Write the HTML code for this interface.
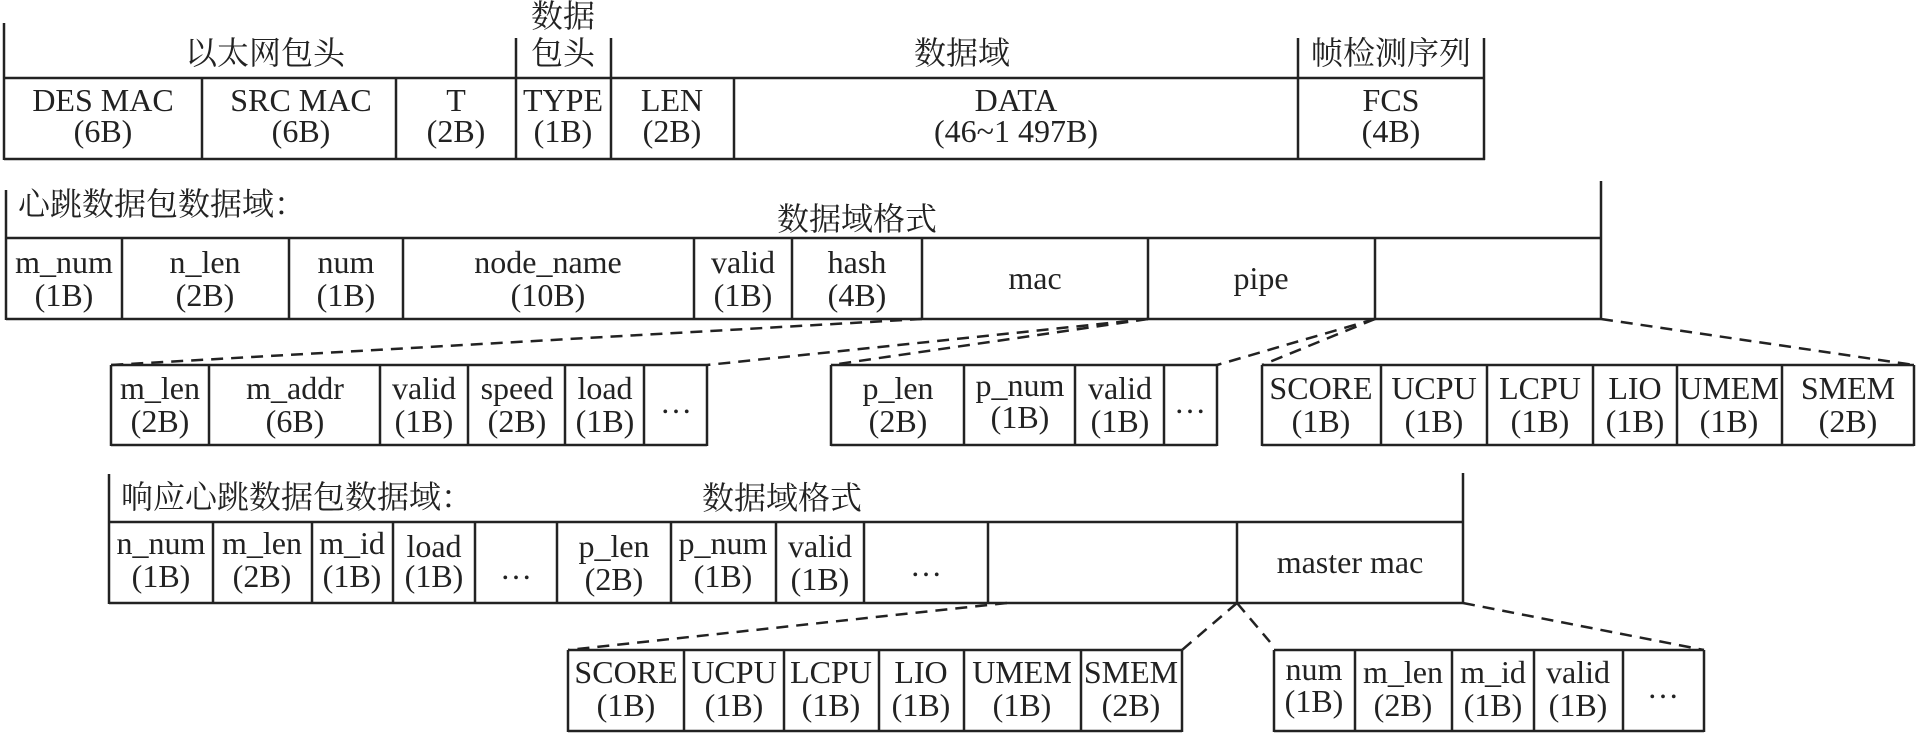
<!DOCTYPE html>
<html><head><meta charset="utf-8"><style>
html,body{margin:0;padding:0;background:#fff;}
svg{display:block}
text{font-family:"Liberation Serif","Noto Serif CJK SC",serif;font-size:32px;fill:#222;text-anchor:middle}
.c{font-family:"Liberation Serif","Noto Serif CJK SC","Noto Sans CJK SC",serif;font-size:32px}
.l{text-anchor:start}
line{stroke:#222;stroke-width:2.5}
.d{stroke-dasharray:12 8;stroke-width:2.5}
</style></head><body>
<svg width="1917" height="734" viewBox="0 0 1917 734" xmlns="http://www.w3.org/2000/svg">
<!-- Table 1 -->
<line x1="4" y1="23" x2="4" y2="160"/>
<line x1="4" y1="78" x2="1484" y2="78"/>
<line x1="4" y1="159" x2="1485" y2="159"/>
<line x1="202" y1="78" x2="202" y2="159"/>
<line x1="396" y1="78" x2="396" y2="159"/>
<line x1="516" y1="38" x2="516" y2="159"/>
<line x1="611" y1="38" x2="611" y2="159"/>
<line x1="734" y1="78" x2="734" y2="159"/>
<line x1="1298" y1="38" x2="1298" y2="159"/>
<line x1="1484" y1="38" x2="1484" y2="160"/>
<text class="c" x="265" y="64">以太网包头</text>
<text class="c" x="563" y="27">数据</text>
<text class="c" x="563" y="64">包头</text>
<text class="c" x="962" y="64">数据域</text>
<text class="c" x="1391" y="64">帧检测序列</text>
<text x="103" y="111">DES MAC</text><text x="103" y="142">(6B)</text>
<text x="301" y="111">SRC MAC</text><text x="301" y="142">(6B)</text>
<text x="456" y="111">T</text><text x="456" y="142">(2B)</text>
<text x="563" y="111">TYPE</text><text x="563" y="142">(1B)</text>
<text x="672" y="111">LEN</text><text x="672" y="142">(2B)</text>
<text x="1016" y="111">DATA</text><text x="1016" y="142">(46~1 497B)</text>
<text x="1391" y="111">FCS</text><text x="1391" y="142">(4B)</text>

<!-- Table 2 -->
<line x1="6" y1="190" x2="6" y2="320"/>
<line x1="6" y1="238" x2="1601" y2="238"/>
<line x1="6" y1="319" x2="1601" y2="319"/>
<line x1="1601" y1="181" x2="1601" y2="320"/>
<line x1="122" y1="238" x2="122" y2="319"/>
<line x1="289" y1="238" x2="289" y2="319"/>
<line x1="403" y1="238" x2="403" y2="319"/>
<line x1="694" y1="238" x2="694" y2="319"/>
<line x1="792" y1="238" x2="792" y2="319"/>
<line x1="922" y1="238" x2="922" y2="319"/>
<line x1="1148" y1="238" x2="1148" y2="319"/>
<line x1="1375" y1="238" x2="1375" y2="319"/>
<text class="c l" x="18" y="215">心跳数据包数据域：</text>
<text class="c" x="857" y="230">数据域格式</text>
<text x="64" y="273">m_num</text><text x="64" y="306">(1B)</text>
<text x="205" y="273">n_len</text><text x="205" y="306">(2B)</text>
<text x="346" y="273">num</text><text x="346" y="306">(1B)</text>
<text x="548" y="273">node_name</text><text x="548" y="306">(10B)</text>
<text x="743" y="273">valid</text><text x="743" y="306">(1B)</text>
<text x="857" y="273">hash</text><text x="857" y="306">(4B)</text>
<text x="1035" y="289">mac</text>
<text x="1261" y="289">pipe</text>

<!-- dashed connectors 2 -->
<line class="d" x1="922" y1="319" x2="111" y2="365"/>
<line class="d" x1="1148" y1="319" x2="707" y2="365"/>
<line class="d" x1="1148" y1="319" x2="831" y2="365"/>
<line class="d" x1="1375" y1="319" x2="1217" y2="365"/>
<line class="d" x1="1375" y1="319" x2="1262" y2="365"/>
<line class="d" x1="1601" y1="319" x2="1914" y2="365"/>

<!-- Sub A -->
<line x1="111" y1="365" x2="707" y2="365"/>
<line x1="111" y1="445" x2="707" y2="445"/>
<line x1="111" y1="365" x2="111" y2="446"/>
<line x1="209" y1="365" x2="209" y2="445"/>
<line x1="380" y1="365" x2="380" y2="445"/>
<line x1="468" y1="365" x2="468" y2="445"/>
<line x1="565" y1="365" x2="565" y2="445"/>
<line x1="644" y1="365" x2="644" y2="445"/>
<line x1="707" y1="365" x2="707" y2="446"/>
<text x="160" y="399">m_len</text><text x="160" y="432">(2B)</text>
<text x="295" y="399">m_addr</text><text x="295" y="432">(6B)</text>
<text x="424" y="399">valid</text><text x="424" y="432">(1B)</text>
<text x="517" y="399">speed</text><text x="517" y="432">(2B)</text>
<text x="605" y="399">load</text><text x="605" y="432">(1B)</text>
<text x="676" y="413">…</text>

<!-- Sub B -->
<line x1="831" y1="365" x2="1217" y2="365"/>
<line x1="831" y1="445" x2="1217" y2="445"/>
<line x1="831" y1="365" x2="831" y2="446"/>
<line x1="964" y1="365" x2="964" y2="445"/>
<line x1="1075" y1="365" x2="1075" y2="445"/>
<line x1="1164" y1="365" x2="1164" y2="445"/>
<line x1="1217" y1="365" x2="1217" y2="446"/>
<text x="898" y="399">p_len</text><text x="898" y="432">(2B)</text>
<text x="1020" y="396">p_num</text><text x="1020" y="428">(1B)</text>
<text x="1120" y="399">valid</text><text x="1120" y="432">(1B)</text>
<text x="1190" y="413">…</text>

<!-- Sub C -->
<line x1="1262" y1="365" x2="1914" y2="365"/>
<line x1="1262" y1="445" x2="1914" y2="445"/>
<line x1="1262" y1="365" x2="1262" y2="446"/>
<line x1="1381" y1="365" x2="1381" y2="445"/>
<line x1="1487" y1="365" x2="1487" y2="445"/>
<line x1="1593" y1="365" x2="1593" y2="445"/>
<line x1="1677" y1="365" x2="1677" y2="445"/>
<line x1="1782" y1="365" x2="1782" y2="445"/>
<line x1="1914" y1="365" x2="1914" y2="446"/>
<text x="1321" y="399">SCORE</text><text x="1321" y="432">(1B)</text>
<text x="1434" y="399">UCPU</text><text x="1434" y="432">(1B)</text>
<text x="1540" y="399">LCPU</text><text x="1540" y="432">(1B)</text>
<text x="1635" y="399">LIO</text><text x="1635" y="432">(1B)</text>
<text x="1729" y="399">UMEM</text><text x="1729" y="432">(1B)</text>
<text x="1848" y="399">SMEM</text><text x="1848" y="432">(2B)</text>

<!-- Table 3 -->
<line x1="109" y1="474" x2="109" y2="604"/>
<line x1="109" y1="522" x2="1463" y2="522"/>
<line x1="109" y1="603" x2="1463" y2="603"/>
<line x1="1463" y1="473" x2="1463" y2="604"/>
<line x1="213" y1="522" x2="213" y2="603"/>
<line x1="312" y1="522" x2="312" y2="603"/>
<line x1="393" y1="522" x2="393" y2="603"/>
<line x1="475" y1="522" x2="475" y2="603"/>
<line x1="557" y1="522" x2="557" y2="603"/>
<line x1="671" y1="522" x2="671" y2="603"/>
<line x1="776" y1="522" x2="776" y2="603"/>
<line x1="864" y1="522" x2="864" y2="603"/>
<line x1="988" y1="522" x2="988" y2="603"/>
<line x1="1237" y1="522" x2="1237" y2="603"/>
<text class="c l" x="121" y="508">响应心跳数据包数据域：</text>
<text class="c" x="782" y="509">数据域格式</text>
<text x="161" y="554">n_num</text><text x="161" y="587">(1B)</text>
<text x="262" y="554">m_len</text><text x="262" y="587">(2B)</text>
<text x="352" y="554">m_id</text><text x="352" y="587">(1B)</text>
<text x="434" y="557">load</text><text x="434" y="587">(1B)</text>
<text x="516" y="579">…</text>
<text x="614" y="557">p_len</text><text x="614" y="590">(2B)</text>
<text x="723" y="554">p_num</text><text x="723" y="587">(1B)</text>
<text x="820" y="557">valid</text><text x="820" y="590">(1B)</text>
<text x="926" y="576">…</text>
<text x="1350" y="573">master mac</text>

<!-- dashed connectors 3 -->
<line class="d" x1="1007" y1="603" x2="568" y2="650"/>
<line class="d" x1="1237" y1="603" x2="1182" y2="650"/>
<line class="d" x1="1237" y1="603" x2="1270" y2="642"/>
<line class="d" x1="1463" y1="603" x2="1704" y2="650"/>

<!-- Sub D -->
<line x1="568" y1="650" x2="1182" y2="650"/>
<line x1="568" y1="731" x2="1182" y2="731"/>
<line x1="568" y1="650" x2="568" y2="732"/>
<line x1="684" y1="650" x2="684" y2="731"/>
<line x1="784" y1="650" x2="784" y2="731"/>
<line x1="879" y1="650" x2="879" y2="731"/>
<line x1="964" y1="650" x2="964" y2="731"/>
<line x1="1081" y1="650" x2="1081" y2="731"/>
<line x1="1182" y1="650" x2="1182" y2="732"/>
<text x="626" y="683">SCORE</text><text x="626" y="716">(1B)</text>
<text x="734" y="683">UCPU</text><text x="734" y="716">(1B)</text>
<text x="831" y="683">LCPU</text><text x="831" y="716">(1B)</text>
<text x="921" y="683">LIO</text><text x="921" y="716">(1B)</text>
<text x="1022" y="683">UMEM</text><text x="1022" y="716">(1B)</text>
<text x="1131" y="683">SMEM</text><text x="1131" y="716">(2B)</text>

<!-- Sub E -->
<line x1="1274" y1="650" x2="1704" y2="650"/>
<line x1="1274" y1="731" x2="1704" y2="731"/>
<line x1="1274" y1="650" x2="1274" y2="732"/>
<line x1="1355" y1="650" x2="1355" y2="731"/>
<line x1="1452" y1="650" x2="1452" y2="731"/>
<line x1="1534" y1="650" x2="1534" y2="731"/>
<line x1="1623" y1="650" x2="1623" y2="731"/>
<line x1="1704" y1="650" x2="1704" y2="732"/>
<text x="1314" y="680">num</text><text x="1314" y="712">(1B)</text>
<text x="1403" y="683">m_len</text><text x="1403" y="716">(2B)</text>
<text x="1493" y="683">m_id</text><text x="1493" y="716">(1B)</text>
<text x="1578" y="683">valid</text><text x="1578" y="716">(1B)</text>
<text x="1663" y="698">…</text>
</svg>
</body></html>
